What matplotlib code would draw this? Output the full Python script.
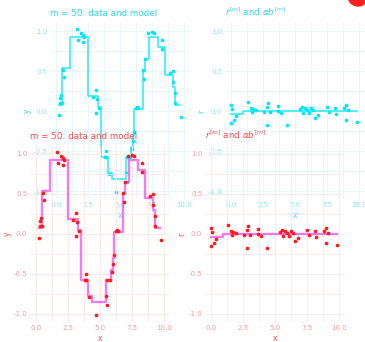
import matplotlib
matplotlib.use("Agg")
import matplotlib.pyplot as plt
from matplotlib.patches import Ellipse
from matplotlib.ticker import MultipleLocator

# ---------------- data ----------------
data_x = [0.18, 0.26, 0.31, 0.36, 0.44, 0.52, 0.57, 1.6, 1.73, 1.9, 2.07, 2.17, 2.07,
          2.84, 3.15, 3.23, 3.36, 3.1, 3.88, 3.8, 3.9, 4.13, 4.65, 5.48, 5.53, 5.53,
          5.79, 5.94, 6.0, 6.12, 6.25, 6.33, 6.45, 6.77, 6.9, 6.98, 7.23, 7.55, 7.67,
          8.27, 8.31, 8.89, 9.15, 9.15, 9.3, 9.35, 9.82]
data_y = [-0.05, 0.16, 0.10, 0.20, 0.10, 0.51, 0.43, 1.03, 0.89, 0.97, 0.95, 0.93, 0.86,
          0.17, 0.26, 0.15, 0.04, -0.03, -0.50, -0.58, -0.58, -0.79, -1.01, -0.78, -0.89,
          -0.58, -0.58, -0.47, -0.37, -0.26, 0.04, 0.05, 0.04, 0.51, 0.40, 0.65, 0.97,
          0.99, 0.98, 0.89, 0.78, 0.48, 0.50, 0.36, 0.23, 0.10, -0.07]

model_x = [0.18, 0.45, 1.1, 2.5, 3.3, 3.5, 4.05, 4.35, 5.47, 5.86, 6.0, 6.12, 6.77,
           6.95, 7.28, 8.0, 8.53, 9.15, 9.3, 9.75]
model_y = [0.08, 0.54, 0.93, 0.19, 0.05, -0.58, -0.78, -0.85, -0.58, -0.45, -0.3, 0.03,
           0.5, 0.65, 0.93, 0.8, 0.45, 0.3, 0.08, 0.08]

res_x = [0.0, 0.03, 0.0, 0.24, 0.35, 1.31, 1.52, 1.71, 1.97, 1.6, 2.59, 2.77, 2.85, 2.77,
         3.04, 3.65, 3.7, 3.9, 4.37, 5.36, 5.52, 5.63, 5.79, 5.97, 6.1, 6.24, 6.43, 6.59,
         6.77, 7.49, 7.65, 8.11, 8.24, 8.83, 8.99, 9.04, 9.17, 9.84]
res_y = [0.07, 0.025, -0.15, -0.11, -0.06, 0.11, 0.04, 0.025, 0.01, -0.01, -0.017, 0.054,
         0.096, -0.175, -0.017, 0.067, 0.0, -0.03, -0.175, 0.025, 0.054, -0.03, 0.04, 0.01,
         -0.02, 0.033, 0.013, -0.09, -0.05, 0.054, -0.008, 0.04, -0.04, 0.033, 0.075, -0.11,
         0.013, -0.14]

fit_x = [0.0, 0.9, 9.85]
fit_y = [-0.035, -0.005, -0.005]

x_ticks = [0.0, 2.5, 5.0, 7.5, 10.0]
y_ticks = [-1.0, -0.5, 0.0, 0.5, 1.0]
left_title = "m = 50: data and model"
right_title = "$r^{[m]}$ and $\\alpha b^{[m]}$"

# ---------------- layout ----------------
W, H = 365, 342
fig = plt.figure(figsize=(W / 100, H / 100), dpi=100)
fig.patch.set_facecolor("white")


def rect(l, t, r, b):
    return [l / W, 1 - b / H, (r - l) / W, (b - t) / H]


frames = [
    dict(dx=0, dy=0, pt="#00e8f8", line="#00e8f8", lw=1.1, lalpha=0.85,
         text="#30d8ea", tick="#88e8f0", grid="#e2f8fa"),
    dict(dx=-20, dy=123, pt="#ff1a1a", line="#ee44ee", lw=1.7, lalpha=0.7,
         text="#ff4a4a", tick="#ff9a9a", grid="#ffe6e6"),
]

for f in frames:
    dx, dy = f["dx"], f["dy"]
    axL = fig.add_axes(rect(50 + dx, 23 + dy, 190 + dx, 199 + dy))
    axR = fig.add_axes(rect(225 + dx, 23 + dy, 365 + dx, 199 + dy))
    for ax, title, ylab in [(axL, left_title, "y"), (axR, right_title, "r")]:
        ax.set_facecolor("none")
        ax.set_xlim(-0.5, 10.5)
        ax.set_ylim(-1.1, 1.1)
        ax.set_xticks(x_ticks)
        ax.set_yticks(y_ticks)
        ax.xaxis.set_minor_locator(MultipleLocator(1.25))
        ax.yaxis.set_minor_locator(MultipleLocator(0.25))
        ax.set_xticklabels([f"{v:.1f}" for v in x_ticks])
        ax.set_yticklabels([f"{v:.1f}" for v in y_ticks])
        ax.tick_params(which="both", length=0, pad=2, labelsize=5, colors=f["tick"])
        ax.grid(True, which="both", color=f["grid"], lw=0.6)
        ax.set_axisbelow(True)
        for s in ax.spines.values():
            s.set_visible(False)
        ax.set_title(title, loc="left", fontsize=6.3, color=f["text"], pad=5)
        ax.set_xlabel("x", fontsize=5.5, color=f["text"], labelpad=2.5)
        ax.set_ylabel(ylab, fontsize=5.5, color=f["text"], labelpad=1.5)
    axL.step(model_x, model_y, where="post", color=f["line"], lw=f["lw"],
             alpha=f["lalpha"], zorder=2)
    axL.scatter(data_x, data_y, s=7, color=f["pt"], lw=0, zorder=3)
    axR.step(fit_x, fit_y, where="post", color=f["line"], lw=f["lw"],
             alpha=f["lalpha"], zorder=2)
    axR.scatter(res_x, res_y, s=7, color=f["pt"], lw=0, zorder=3)

# red blob in the top-right corner
fig.patches.append(Ellipse((358 / W, 1 + 4 / H), 20 / W, 20 / H, color="#ff2020",
                           transform=fig.transFigure, figure=fig))

fig.savefig("out.png", dpi=100, facecolor="white")
